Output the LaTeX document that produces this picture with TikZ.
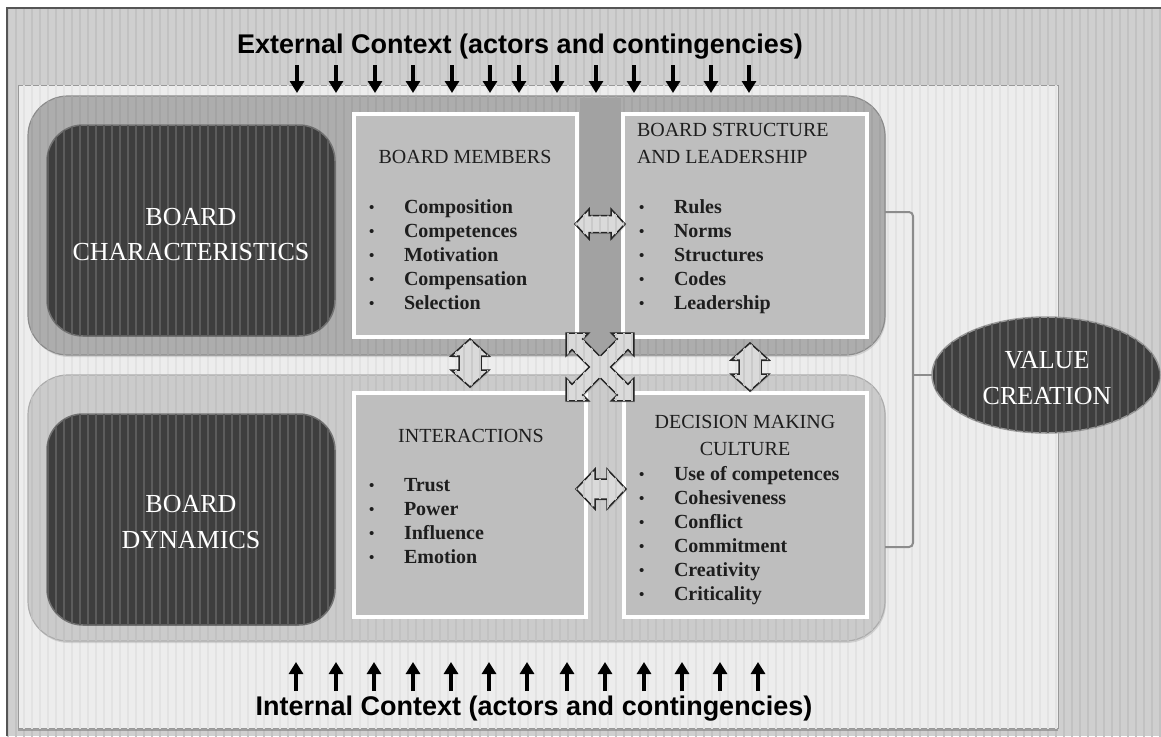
\documentclass[tikz,border=0pt]{standalone}
\usepackage{fontspec}
\setmainfont{Liberation Serif}
\newfontfamily\ctxfont{Liberation Sans}
\usetikzlibrary{arrows.meta,shadows,patterns.meta,shapes.geometric,calc}
\definecolor{bgout}{HTML}{CFCFCF}
\definecolor{bgstripe}{HTML}{C2C2C2}
\definecolor{framec}{HTML}{555555}
\definecolor{panelc}{HTML}{EDEDED}
\definecolor{panelstripe}{HTML}{E3E3E3}
\definecolor{bandtopc}{HTML}{ADADAD}
\definecolor{bandtopstripe}{HTML}{A4A4A4}
\definecolor{bandbotc}{HTML}{CBCBCB}
\definecolor{bandbotstripe}{HTML}{C2C2C2}
\definecolor{gapc}{HTML}{A2A2A2}
\definecolor{darkc}{HTML}{3E3E3E}
\definecolor{darkstripe}{HTML}{5C5C5C}
\definecolor{inboxc}{HTML}{BEBEBE}
\definecolor{arrowc}{HTML}{DADADA}
\definecolor{arrowstripe}{HTML}{CACACA}
\definecolor{txtc}{HTML}{1E1E1E}
\definecolor{brkc}{HTML}{8C8C8C}
\newcommand{\bl}[1]{\makebox[35pt][l]{\raisebox{1pt}{\scalebox{0.75}{\textbullet}}}#1}
\begin{document}
\begin{tikzpicture}[x=1pt,y=-1pt,
  stripes/.style={postaction={pattern={Lines[angle=90,distance=8pt,line width=1.6pt]},pattern color=#1}},
  band/.style={rounded corners=40pt, anchor=north west, inner sep=0pt, outer sep=0pt, line width=1.2pt},
  darkbox/.style={fill=darkc, draw=black!55, line width=1.5pt, rounded corners=36pt, anchor=north west,
    inner sep=0pt, outer sep=0pt, minimum width=288pt, minimum height=211pt, stripes=darkstripe},
  inbox/.style={fill=inboxc, draw=white, line width=4pt, anchor=north west, inner sep=0pt, outer sep=0pt,
    drop shadow={shadow xshift=1.5pt, shadow yshift=-2pt, opacity=0.35}},
  head/.style={font=\fontsize{20}{24}\selectfont, text=txtc, inner sep=0pt, outer sep=0pt},
  list/.style={font=\fontsize{20}{24}\selectfont\bfseries, text=txtc, inner sep=0pt, outer sep=0pt, anchor=base west},
  big/.style={font=\fontsize{26}{31}\selectfont, text=white, inner sep=0pt, outer sep=0pt, anchor=base},
  ctx/.style={font=\ctxfont\fontsize{27}{32}\selectfont\bfseries, text=black, inner sep=0pt, outer sep=0pt, anchor=base},
  ctxarrow/.style={line width=3.5pt, -{Triangle[width=14pt,length=12pt]}},
  dbl/.style={fill=arrowc, draw=black!85, line width=1.5pt, line join=miter, stripes=arrowstripe,
    drop shadow={shadow xshift=1pt, shadow yshift=-1.5pt, opacity=0.3}},
  brk/.style={draw=brkc, line width=2pt, rounded corners=4pt},
  vdbl/.pic={\draw[dbl] (0,-24) -- (19,-7) -- (11,-7) -- (11,7) -- (19,7) -- (0,24) -- (-19,7) -- (-11,7) -- (-11,-7) -- (-19,-7) -- cycle;},
  hdbla/.pic={\draw[dbl] (-25,0) -- (-11,-15) -- (-11,-8.5) -- (11,-8.5) -- (11,-15) -- (25,0) -- (11,15) -- (11,8.5) -- (-11,8.5) -- (-11,15) -- cycle;},
  hdblb/.pic={\draw[dbl] (-25,0) -- (-6,-20) -- (-6,-10) -- (6,-10) -- (6,-20) -- (25,0) -- (6,20) -- (6,10) -- (-6,10) -- (-6,20) -- cycle;}
]
\useasboundingbox (0,0) rectangle (1161,736);
% outer background
\fill[white] (0,0) rectangle (1161,736);
\fill[bgout, stripes=bgstripe] (7,8) rectangle (1161,736);
\draw[line width=2pt, framec] (7,736) -- (7,8) -- (1161,8);
% inner panel
\node[fill=panelc, draw=black!40, line width=1pt, anchor=north west, minimum width=1040pt, minimum height=643pt,
  inner sep=0pt, outer sep=0pt, stripes=panelstripe,
  drop shadow={shadow xshift=0pt, shadow yshift=-2.5pt, opacity=0.6}] (panel) at (18,85) {};
% bands
\node[band, fill=bandtopc, draw=black!45, minimum width=857pt, minimum height=259pt, stripes=bandtopstripe,
  drop shadow={shadow xshift=1pt, shadow yshift=-2pt, opacity=0.25}] (topband) at (28,96) {};
\fill[gapc] (580,98) rectangle (621,353);
\node[band, fill=bandbotc, draw=black!32, minimum width=857pt, minimum height=266pt, stripes=bandbotstripe,
  drop shadow={shadow xshift=1pt, shadow yshift=-2pt, opacity=0.25}] (botband) at (28,375) {};
% dark boxes
\node[darkbox] (charbox) at (47,125) {};
\node[darkbox] (dynbox) at (47,414) {};
\node[big] (char1) at (191,225) {BOARD};
\node[big] (char2) at (191,260) {CHARACTERISTICS};
\node[big] (dyn1) at (191,512) {BOARD};
\node[big] (dyn2) at (191,548) {DYNAMICS};
% inner boxes
\node[inbox, minimum width=223pt, minimum height=223pt] (members) at (354,114) {};
\node[inbox, minimum width=244pt, minimum height=223pt] (structure) at (623,114) {};
\node[inbox, minimum width=232pt, minimum height=224pt] (interactions) at (354,393) {};
\node[inbox, minimum width=243pt, minimum height=224pt] (decision) at (624,393) {};
% headers
\node[head, anchor=base] (h1) at (465,163) {BOARD MEMBERS};
\node[head, anchor=base west] (h2a) at (637,136) {BOARD STRUCTURE};
\node[head, anchor=base west] (h2b) at (637,163) {AND LEADERSHIP};
\node[head, anchor=base] (h3) at (471,442) {INTERACTIONS};
\node[head, anchor=base] (h4a) at (745,428) {DECISION MAKING};
\node[head, anchor=base] (h4b) at (745,455) {CULTURE};
% lists
\node[list] (l1) at (369,213) {\begin{tabular}[t]{@{}l@{}}\bl{Composition}\\ \bl{Competences}\\ \bl{Motivation}\\ \bl{Compensation}\\ \bl{Selection}\end{tabular}};
\node[list] (l2) at (639,213) {\begin{tabular}[t]{@{}l@{}}\bl{Rules}\\ \bl{Norms}\\ \bl{Structures}\\ \bl{Codes}\\ \bl{Leadership}\end{tabular}};
\node[list] (l3) at (369,491) {\begin{tabular}[t]{@{}l@{}}\bl{Trust}\\ \bl{Power}\\ \bl{Influence}\\ \bl{Emotion}\end{tabular}};
\node[list] (l4) at (639,480) {\begin{tabular}[t]{@{}l@{}}\bl{Use of competences}\\ \bl{Cohesiveness}\\ \bl{Conflict}\\ \bl{Commitment}\\ \bl{Creativity}\\ \bl{Criticality}\end{tabular}};
% double arrows
\pic at (600,224) {hdbla};
\pic at (601,489) {hdblb};
\pic at (470,363) {vdbl};
\pic at (750,367) {vdbl};
% four-way arrow
\begin{scope}[shift={(600,367)}, rotate=45]
\draw[dbl] (7.5,-7.5) -- (32,-7.5) -- (32,-16) -- (48,0) -- (32,16) -- (32,7.5) -- (7.5,7.5) -- (7.5,32) -- (16,32) -- (0,48) -- (-16,32) -- (-7.5,32) -- (-7.5,7.5) -- (-32,7.5) -- (-32,16) -- (-48,0) -- (-32,-16) -- (-32,-7.5) -- (-7.5,-7.5) -- (-7.5,-32) -- (-16,-32) -- (0,-48) -- (16,-32) -- (7.5,-32) -- cycle;
\end{scope}
% value creation
\node[ellipse, fill=darkc, draw=black!40, line width=1.5pt, minimum width=228pt, minimum height=116pt,
  inner sep=0pt, outer sep=0pt, stripes=darkstripe] (value) at (1046,375) {};
\node[big] (v1) at (1047,368) {VALUE};
\node[big] (v2) at (1047,404) {CREATION};
% bracket
\coordinate (bt) at (913,212);
\coordinate (bb) at (913,547);
\draw[brk] (bt -| topband.east) -- (bt) -- (bb) -- (bb -| botband.east);
\draw[brk] (value.west -| bt) -- (value.west);
% context
\node[ctx] (ext) at (520,53) {External Context (actors and contingencies)};
\node[ctx] (int) at (534,715) {Internal Context (actors and contingencies)};
\foreach \x in {297,336,375,413,452,490,519,557,596,634,673,711,749}
  \draw[ctxarrow] (\x,65) -- (\x,93);
\foreach \x in {296,336,374,413,451,489,527,567,605,644,682,720,758}
  \draw[ctxarrow] (\x,691) -- (\x,662);
\end{tikzpicture}
\end{document}
